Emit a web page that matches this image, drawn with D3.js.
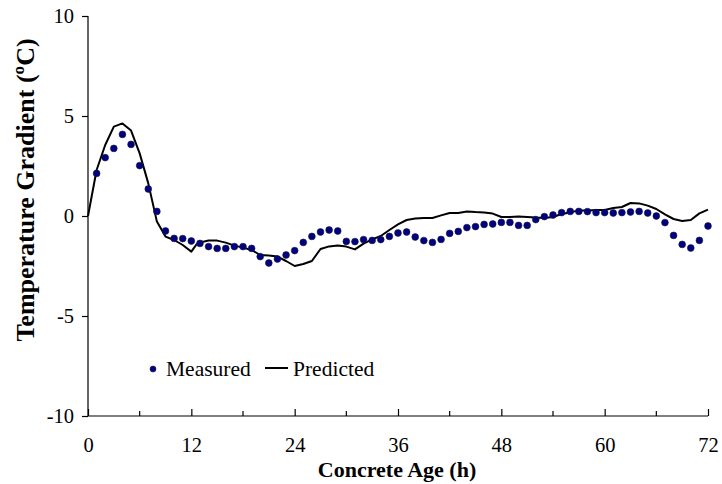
<!DOCTYPE html>
<html><head><meta charset="utf-8">
<script src="https://cdn.jsdelivr.net/npm/d3@7"></script>
<style>body{margin:0;background:#fff}svg{display:block}text{font-family:"Liberation Serif","Times New Roman",serif;fill:#000}</style>
</head><body><svg id="c" width="722" height="484"></svg>
<script>
const measuredHours = [1,2,3,4,5,6,7,8,9,10,11,12,13,14,15,16,17,18,19,20,21,22,23,24,25,26,27,28,29,30,31,32,33,34,35,36,37,38,39,40,41,42,43,44,45,46,47,48,49,50,51,52,53,54,55,56,57,58,59,60,61,62,63,64,65,66,67,68,69,70,71,72];
const measuredValues = [2.13,2.92,3.38,4.08,3.58,2.52,1.35,0.23,-0.75,-1.12,-1.13,-1.25,-1.37,-1.53,-1.62,-1.62,-1.53,-1.53,-1.62,-2.03,-2.35,-2.15,-1.95,-1.73,-1.32,-1.02,-0.8,-0.7,-0.75,-1.27,-1.28,-1.18,-1.22,-1.18,-1.02,-0.85,-0.8,-1.05,-1.23,-1.32,-1.17,-0.87,-0.77,-0.58,-0.53,-0.42,-0.4,-0.32,-0.32,-0.47,-0.47,-0.18,-0.03,0.05,0.17,0.23,0.23,0.22,0.17,0.17,0.15,0.17,0.2,0.23,0.15,0.0,-0.33,-0.97,-1.42,-1.6,-1.22,-0.5];
const predictedHours = [0,1,2,3,4,5,6,7,8,9,10,11,12,12.6,13,14,15,16,17,18,19,20,21,22,23,24,25,26,27,28,29,30,31,32,33,34,35,36,37,38,39,40,41,42,43,44,45,46,47,48,49,50,51,52,53,54,55,56,57,58,59,60,61,62,63,64,65,66,67,68,69,70,71,72];
const predictedValues = [0,2.3,3.55,4.47,4.63,4.27,3.13,1.63,-0.28,-1.03,-1.2,-1.45,-1.78,-1.42,-1.32,-1.23,-1.23,-1.33,-1.48,-1.58,-1.7,-1.95,-1.98,-2.03,-2.25,-2.5,-2.4,-2.25,-1.65,-1.52,-1.47,-1.53,-1.67,-1.38,-1.17,-1.0,-0.7,-0.42,-0.2,-0.12,-0.1,-0.1,0.03,0.15,0.15,0.23,0.2,0.18,0.12,-0.05,-0.05,-0.03,-0.05,-0.08,-0.1,-0.05,0.1,0.18,0.28,0.28,0.3,0.3,0.4,0.45,0.65,0.63,0.52,0.35,0.08,-0.15,-0.25,-0.2,0.13,0.32];
const xMajorTicks = [0,12,24,36,48,60,72];
const xMinorTicks = [6,18,30,42,54,66];
const yTicks = [10,5,0,-5,-10];
const xTitle = "Concrete Age (h)";
const yTitle = "Temperature Gradient (ºC)";
const legendLabels = ["Measured","Predicted"];

const svg = d3.select("#c");
const x = d3.scaleLinear().domain([0,72]).range([88,708]);
const y = d3.scaleLinear().domain([-10,10]).range([416,16]);
const fmt = d => String(d);

// y axis
const ya = svg.append("g").attr("transform","translate(88,0)")
  .call(d3.axisLeft(y).tickValues(yTicks).tickSize(6).tickPadding(8).tickFormat(fmt));
ya.select(".domain").attr("d","M0,16V416").attr("stroke","#000").attr("stroke-width",1.2);
ya.selectAll(".tick line").attr("stroke","#000").attr("stroke-width",1.2);
ya.selectAll(".tick text").style("font-size","20.5px").style("font-family","Liberation Serif").attr("dy","0.34em");

// x axis
const xa = svg.append("g").attr("transform","translate(0,416)")
  .call(d3.axisBottom(x).tickValues(xMajorTicks).tickSize(-7).tickPadding(0).tickFormat(fmt));
xa.select(".domain").attr("d","M88,0H708").attr("stroke","#000").attr("stroke-width",1.2);
xa.selectAll(".tick line").attr("stroke","#000").attr("stroke-width",1.2);
xa.selectAll(".tick text").style("font-size","20.5px").style("font-family","Liberation Serif").attr("y",36).attr("dy",0);
svg.append("g").selectAll("line").data(xMinorTicks).join("line")
  .attr("x1",d=>x(d)).attr("x2",d=>x(d)).attr("y1",416).attr("y2",411)
  .attr("stroke","#000").attr("stroke-width",1.2);

// titles
svg.append("text").attr("x",397).attr("y",477).attr("text-anchor","middle")
  .style("font-size","22px").style("font-weight","bold").text(xTitle);
svg.append("text").attr("transform","translate(34,190) rotate(-90)").attr("text-anchor","middle")
  .style("font-size","26px").style("font-weight","bold").text(yTitle);

// predicted line
const line = d3.line().x(d=>x(d[0])).y(d=>y(d[1]));
svg.append("path").datum(predictedHours.map((h,i)=>[h,predictedValues[i]]))
  .attr("d",line).attr("fill","none").attr("stroke","#000").attr("stroke-width",2).attr("stroke-linejoin","round");

// measured points
svg.append("g").selectAll("circle").data(measuredHours.map((h,i)=>[h,measuredValues[i]])).join("circle")
  .attr("cx",d=>x(d[0])).attr("cy",d=>y(d[1])).attr("r",3.4)
  .attr("fill","#000080").attr("stroke","#1a1a3a").attr("stroke-width",0.6);

// legend
svg.append("circle").attr("cx",153).attr("cy",369).attr("r",3).attr("fill","#000080").attr("stroke","#1a1a3a").attr("stroke-width",0.6);
svg.append("text").attr("x",166).attr("y",376).style("font-size","21.5px").text(legendLabels[0]);
svg.append("line").attr("x1",265).attr("x2",288).attr("y1",368).attr("y2",368).attr("stroke","#000").attr("stroke-width",2);
svg.append("text").attr("x",293).attr("y",376).style("font-size","21.5px").text(legendLabels[1]);
</script></body></html>
